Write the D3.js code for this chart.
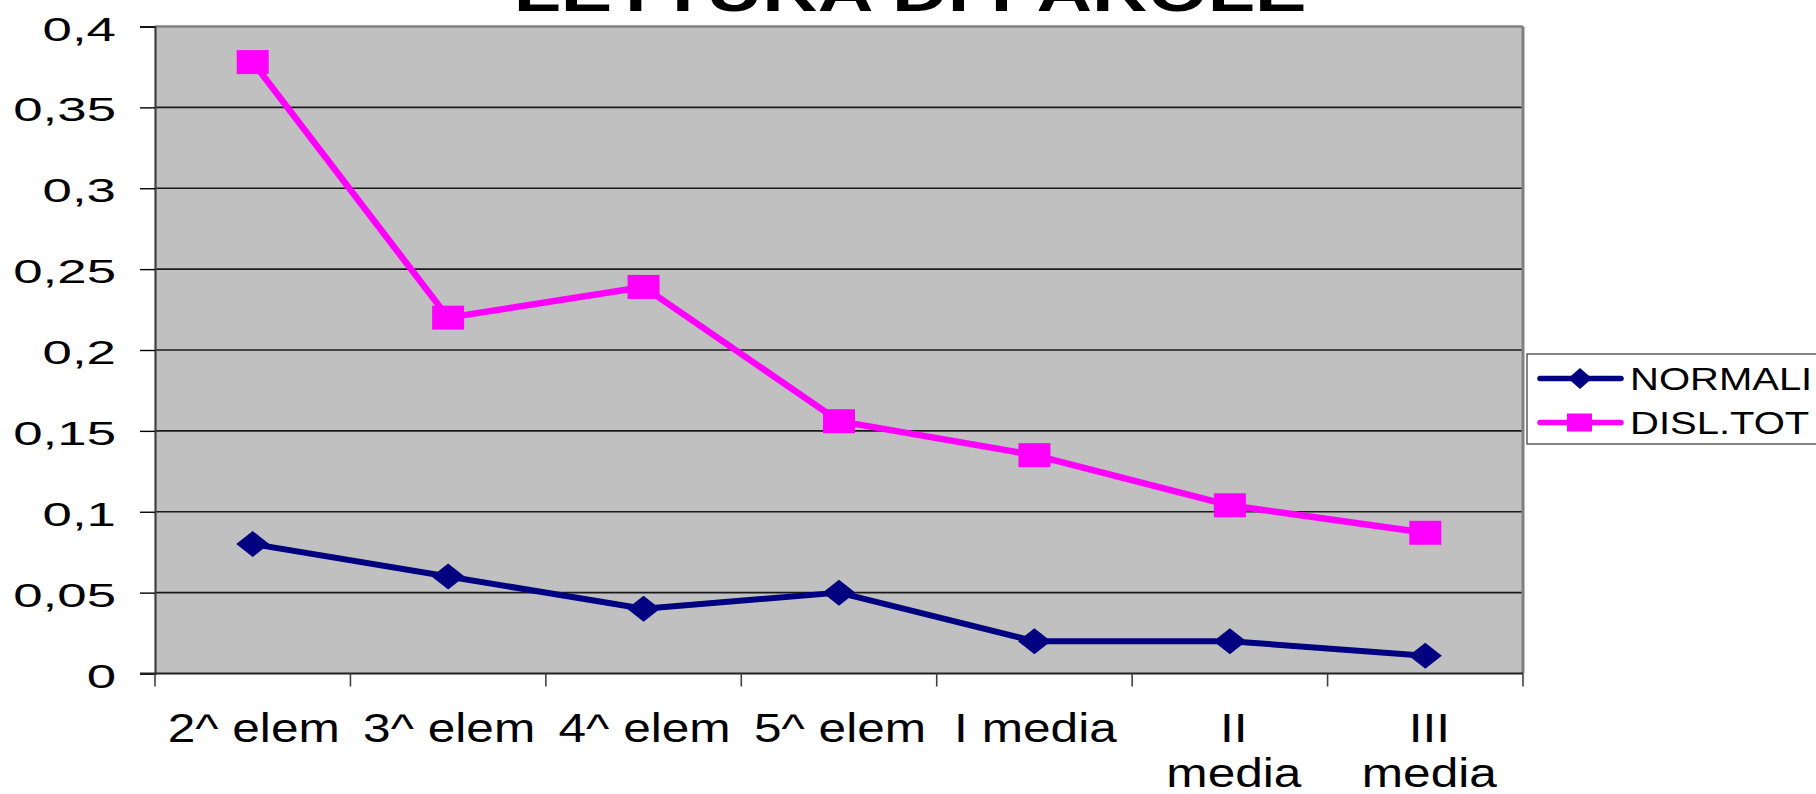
<!DOCTYPE html>
<html>
<head>
<meta charset="utf-8">
<script src="https://cdn.jsdelivr.net/npm/d3@7/dist/d3.min.js"></script>
<style>
  html, body { margin: 0; padding: 0; background: #ffffff; }
  svg { display: block; }
  text { font-family: "Liberation Sans", Arial, sans-serif; fill: #000; }
</style>
</head>
<body>
<svg id="chart" width="1816" height="794"></svg>
<script>
// Reading speed by school year
const categories = ["2^ elem", "3^ elem", "4^ elem", "5^ elem", "I media", "II media", "III media"];
const categoryLines = [["2^ elem"], ["3^ elem"], ["4^ elem"], ["5^ elem"], ["I media"], ["II", "media"], ["III", "media"]];
const normali = [0.08, 0.06, 0.04, 0.05, 0.02, 0.02, 0.011];
const dislTot = [0.378, 0.22, 0.239, 0.156, 0.135, 0.104, 0.087];
const yTicks = [0, 0.05, 0.1, 0.15, 0.2, 0.25, 0.3, 0.35, 0.4];
const seriesNames = ["NORMALI", "DISL.TOT"];
const titleText = "LETTURA DI PAROLE";

const svg = d3.select("#chart");
const plot = { left: 155, right: 1523, top: 26.5, bottom: 673.5 };

const itLocale = d3.formatLocale({ decimal: ",", thousands: ".", grouping: [3], currency: ["", " €"] });
const fmt = itLocale.format(".2~f");

const x = d3.scalePoint().domain(categories).range([plot.left, plot.right]).padding(0.5);
const xBand = d3.scaleBand().domain(categories).range([plot.left, plot.right]).paddingInner(0).paddingOuter(0);
const y = d3.scaleLinear().domain([0, 0.4]).range([plot.bottom, plot.top]);

// Horizontally stretched text helper
function stretchText(sel, tx, ty, sx, anchor, str, size, weight) {
  return sel.append("text")
    .attr("transform", `translate(${tx},${ty}) scale(${sx},1)`)
    .attr("text-anchor", anchor)
    .attr("font-size", size)
    .attr("font-weight", weight || "normal")
    .text(str);
}

// Title (runs off the top of the canvas)
stretchText(svg, 910, 11, 1.33, "middle", titleText, 58, "bold");

// Plot background
svg.append("rect")
  .attr("x", plot.left).attr("y", plot.top)
  .attr("width", plot.right - plot.left).attr("height", plot.bottom - plot.top)
  .attr("fill", "#c0c0c0");

// Gridlines
svg.append("g").selectAll("line")
  .data(yTicks.filter(d => d > 0 && d < 0.4))
  .join("line")
  .attr("x1", plot.left).attr("x2", plot.right)
  .attr("y1", d => y(d)).attr("y2", d => y(d))
  .attr("stroke", "#1a1a1a").attr("stroke-width", 1.6);

// Plot frame: top and right in grey
svg.append("line")
  .attr("x1", plot.left).attr("x2", plot.right)
  .attr("y1", plot.top).attr("y2", plot.top)
  .attr("stroke", "#808080").attr("stroke-width", 2.5);
svg.append("line")
  .attr("x1", plot.right).attr("x2", plot.right)
  .attr("y1", plot.top).attr("y2", plot.bottom)
  .attr("stroke", "#808080").attr("stroke-width", 3);

// Y axis
const yAxis = svg.append("g")
  .attr("transform", `translate(${plot.left},0)`)
  .call(d3.axisLeft(y).tickValues(yTicks).tickFormat(fmt).tickSize(15).tickPadding(0));
yAxis.select(".domain").attr("stroke", "#404040").attr("stroke-width", 2.2);
yAxis.selectAll(".tick line").attr("stroke", "#000").attr("stroke-width", 1.4);
yAxis.selectAll(".tick text").each(function () {
  const t = d3.select(this);
  t.attr("x", null).attr("dy", null);
  t.attr("transform", `translate(${116 - plot.left},13.5) scale(1.6,1)`)
    .attr("text-anchor", "end")
    .style("font-size", "33px");
});
yAxis.attr("font-family", null).attr("font-size", null);

// X axis line and ticks at category boundaries
const xEdges = categories.map(c => xBand(c)).concat([plot.right]);
svg.append("line")
  .attr("x1", plot.left - 15).attr("x2", plot.right)
  .attr("y1", plot.bottom).attr("y2", plot.bottom)
  .attr("stroke", "#202020").attr("stroke-width", 2);
svg.append("g").selectAll("line")
  .data(xEdges)
  .join("line")
  .attr("x1", d => d).attr("x2", d => d)
  .attr("y1", plot.bottom).attr("y2", plot.bottom + 13)
  .attr("stroke", "#404040").attr("stroke-width", 1.6);

// X category labels
const xLab = svg.append("g");
categoryLines.forEach((lines, i) => {
  const cx = x(categories[i]) + (lines.length > 1 ? 4 : 1);
  lines.forEach((ln, j) => {
    stretchText(xLab, cx, 741.5 + j * 45, 1.24, "middle", ln, 40);
  });
});

// Series lines
const line = d3.line().x((d, i) => x(categories[i])).y(d => y(d));
svg.append("path").datum(normali)
  .attr("d", line).attr("fill", "none")
  .attr("stroke", "#000080").attr("stroke-width", 6).attr("stroke-linejoin", "round");
svg.append("path").datum(dislTot)
  .attr("d", line).attr("fill", "none")
  .attr("stroke", "#ff00ff").attr("stroke-width", 6.5).attr("stroke-linejoin", "round");

// Markers
function diamond(w, h) { return `M0,${-h / 2}L${w / 2},0L0,${h / 2}L${-w / 2},0Z`; }
svg.append("g").selectAll("path")
  .data(normali)
  .join("path")
  .attr("transform", (d, i) => `translate(${x(categories[i])},${y(d)})`)
  .attr("d", diamond(33, 26))
  .attr("fill", "#000080");
svg.append("g").selectAll("rect")
  .data(dislTot)
  .join("rect")
  .attr("x", (d, i) => x(categories[i]) - 16)
  .attr("y", d => y(d) - 12)
  .attr("width", 32).attr("height", 24)
  .attr("fill", "#ff00ff");

// Legend
const lg = svg.append("g");
lg.append("rect")
  .attr("x", 1527).attr("y", 354)
  .attr("width", 320).attr("height", 90)
  .attr("fill", "#ffffff").attr("stroke", "#333").attr("stroke-width", 1.2);
const legendItems = [
  { name: seriesNames[0], color: "#000080", y: 378.5, shape: "diamond" },
  { name: seriesNames[1], color: "#ff00ff", y: 422.5, shape: "square" }
];
legendItems.forEach(it => {
  lg.append("line")
    .attr("x1", 1540).attr("x2", 1621)
    .attr("y1", it.y).attr("y2", it.y)
    .attr("stroke", it.color).attr("stroke-width", 5.5).attr("stroke-linecap", "round");
  if (it.shape === "diamond") {
    lg.append("path").attr("transform", `translate(1580,${it.y})`).attr("d", diamond(24, 21)).attr("fill", it.color);
  } else {
    lg.append("rect").attr("x", 1567).attr("y", it.y - 9).attr("width", 25).attr("height", 18).attr("fill", it.color);
  }
  stretchText(lg, 1630, it.y + 11, 1.25, "start", it.name, 32);
});
</script>
</body>
</html>
